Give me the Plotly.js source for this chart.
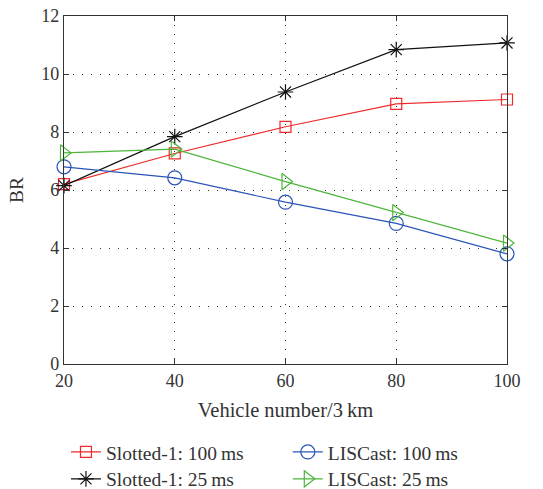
<!DOCTYPE html>
<html><head><meta charset="utf-8">
<script src="https://cdn.plot.ly/plotly-3.0.1.min.js"></script>
<style>body{margin:0;background:#fff}#chart{width:543px;height:489px}</style>
</head><body><div id="chart"></div>
<script>
const vehicles = [20, 40, 60, 80, 100];
const slotted100 = [6.2, 7.26, 8.18, 8.97, 9.12];
const slotted25 = [6.15, 7.84, 9.38, 10.84, 11.07];
const liscast100 = [6.8, 6.42, 5.58, 4.85, 3.8];
const liscast25 = [7.28, 7.41, 6.29, 5.22, 4.17];
const xTicks = [20, 40, 60, 80, 100];
const yTicks = [0, 2, 4, 6, 8, 10, 12];

const font = {family: '"Liberation Serif", "DejaVu Serif", serif', size: 18, color: '#333'};
const bigFont = Object.assign({}, font, {size: 19.5});
function tr(name, y, color, symbol, size, legend) {
  return {x: vehicles, y: y, name: name, type: 'scatter', mode: 'lines+markers', cliponaxis: false,
    legend: legend,
    line: {color: color, width: 1.2},
    marker: {symbol: symbol, size: size, color: color, line: {color: color, width: 1.2}}};
}
const data = [
  tr('Slotted-1: 100\u2009ms', slotted100, '#ee2a2a', 'square-open', 11, 'legend'),
  tr('Slotted-1: 25\u2009ms', slotted25, '#111111', 'asterisk-open', 13, 'legend3'),
  tr('LISCast: 100\u2009ms', liscast100, '#2a55b5', 'circle-open', 14, 'legend2'),
  tr('LISCast: 25\u2009ms', liscast25, '#4cb53a', 'triangle-right-open', 14, 'legend4')
];
const axisCommon = {showline: true, linecolor: '#333', linewidth: 1.2, mirror: 'ticks',
  ticks: 'inside', ticklen: 5, tickcolor: '#333', showgrid: true,
  gridcolor: '#333', griddash: '1px,8px', gridwidth: 1, zeroline: false, tickfont: font};
const legendCommon = {orientation: 'h', xref: 'container', yref: 'container', xanchor: 'left',
  yanchor: 'top', font: bigFont, itemwidth: 30, bgcolor: 'rgba(0,0,0,0)'};
const row1 = 0.115, row2 = 0.060, col1 = 0.1215, col2 = 0.530;
const layout = {
  width: 543, height: 489, paper_bgcolor: '#fff', plot_bgcolor: '#fff',
  margin: {l: 64, r: 36, t: 16, b: 125},
  font: font, showlegend: true,
  xaxis: Object.assign({}, axisCommon, {range: [20, 100], tickvals: xTicks, ticktext: xTicks.map(String),
    title: {text: 'Vehicle number/3\u2009km', font: Object.assign({}, font, {size: 20.5}), standoff: 12}}),
  yaxis: Object.assign({}, axisCommon, {range: [0, 12], tickvals: yTicks, ticktext: yTicks.map(String),
    title: {text: 'BR', font: bigFont, standoff: 12}}),
  legend: Object.assign({}, legendCommon, {x: col1, y: row1}),
  legend2: Object.assign({}, legendCommon, {x: col2, y: row1}),
  legend3: Object.assign({}, legendCommon, {x: col1, y: row2}),
  legend4: Object.assign({}, legendCommon, {x: col2, y: row2})
};
Plotly.newPlot('chart', data, layout, {displayModeBar: false, staticPlot: true});
</script></body></html>
